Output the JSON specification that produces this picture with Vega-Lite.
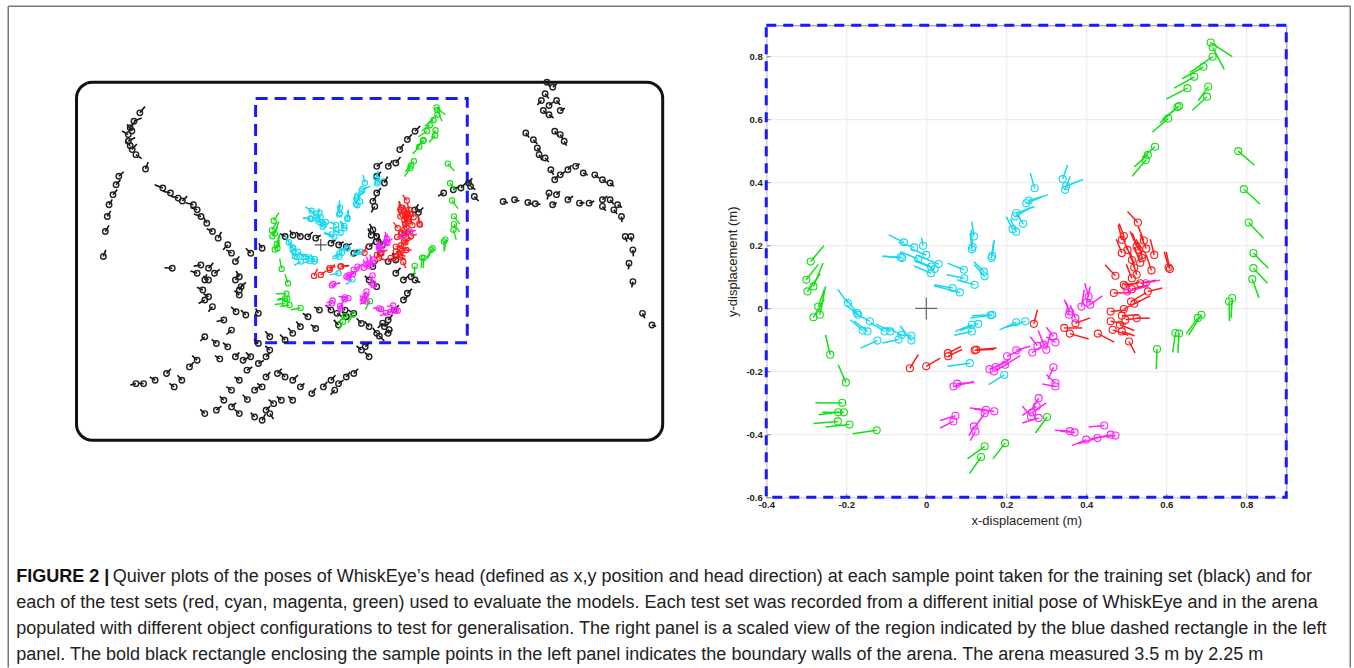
{
"$schema":"https://vega.github.io/schema/vega-lite/v6.json",
"background":"white",
"padding":{"left":7.25,"top":5.25,"right":0,"bottom":0},
"autosize":{"type":"pad"},
"bounds":"flush",
"columns":2,
"spacing":{"row":67,"column":71},
"config":{"view":{"stroke":null},"font":"Liberation Sans"},
"datasets":{
"arena":[{"x":-1.5,"y":-1.2,"xe":2.1,"ye":1.0}],
"zoombox":[{"x":-0.4,"y":-0.6,"xe":0.9,"ye":0.9}],
"origin":[{"x":0,"y":0}],
"frame":[{"x":-0.0118,"y":-21.46,"xe":1.9647,"ye":-21.46},{"x":-0.0118,"y":-21.46,"xe":-0.0118,"ye":3.97},{"x":1.9647,"y":-21.46,"xe":1.9647,"ye":3.97}],
"caption":[
{"x":0,"y":0.5,"t":"FIGURE 2 |","bold":true},
{"x":0.142,"y":0.5,"t":"Quiver plots of the poses of WhiskEye’s head (defined as x,y position and head direction) at each sample point taken for the training set (black) and for","bold":false},
{"x":0,"y":1.5,"t":"each of the test sets (red, cyan, magenta, green) used to evaluate the models. Each test set was recorded from a different initial pose of WhiskEye and in the arena","bold":false},
{"x":0,"y":2.5,"t":"populated with different object configurations to test for generalisation. The right panel is a scaled view of the region indicated by the blue dashed rectangle in the left","bold":false},
{"x":0,"y":3.5,"t":"panel. The bold black rectangle enclosing the sample points in the left panel indicates the boundary walls of the arena. The arena measured 3.5 m by 2.25 m","bold":false}
],
"tests":[
{"set":"green","x":0.711,"y":0.845,"xe":0.765,"ye":0.80},
{"set":"green","x":0.716,"y":0.83,"xe":0.745,"ye":0.76},
{"set":"green","x":0.716,"y":0.80,"xe":0.66,"ye":0.75},
{"set":"green","x":0.693,"y":0.768,"xe":0.64,"ye":0.73},
{"set":"green","x":0.67,"y":0.736,"xe":0.62,"ye":0.70},
{"set":"green","x":0.653,"y":0.70,"xe":0.60,"ye":0.665},
{"set":"green","x":0.705,"y":0.705,"xe":0.68,"ye":0.66},
{"set":"green","x":0.702,"y":0.673,"xe":0.665,"ye":0.63},
{"set":"green","x":0.632,"y":0.643,"xe":0.59,"ye":0.60},
{"set":"green","x":0.628,"y":0.64,"xe":0.585,"ye":0.59},
{"set":"green","x":0.605,"y":0.604,"xe":0.565,"ye":0.56},
{"set":"green","x":0.572,"y":0.514,"xe":0.54,"ye":0.48},
{"set":"green","x":0.554,"y":0.488,"xe":0.52,"ye":0.45},
{"set":"green","x":0.549,"y":0.472,"xe":0.515,"ye":0.42},
{"set":"green","x":0.78,"y":0.50,"xe":0.82,"ye":0.456},
{"set":"green","x":0.794,"y":0.379,"xe":0.834,"ye":0.332},
{"set":"green","x":0.806,"y":0.273,"xe":0.843,"ye":0.223},
{"set":"green","x":0.818,"y":0.176,"xe":0.855,"ye":0.128},
{"set":"green","x":0.818,"y":0.128,"xe":0.853,"ye":0.08},
{"set":"green","x":0.815,"y":0.093,"xe":0.832,"ye":0.033},
{"set":"green","x":0.765,"y":0.033,"xe":0.762,"ye":-0.03},
{"set":"green","x":0.757,"y":0.022,"xe":0.758,"ye":-0.04},
{"set":"green","x":0.688,"y":-0.02,"xe":0.656,"ye":-0.084},
{"set":"green","x":0.679,"y":-0.03,"xe":0.65,"ye":-0.08},
{"set":"green","x":0.623,"y":-0.078,"xe":0.616,"ye":-0.14},
{"set":"green","x":0.632,"y":-0.08,"xe":0.629,"ye":-0.142},
{"set":"green","x":0.577,"y":-0.129,"xe":0.575,"ye":-0.193},
{"set":"green","x":0.302,"y":-0.345,"xe":0.273,"ye":-0.396},
{"set":"green","x":0.146,"y":-0.438,"xe":0.103,"ye":-0.478},
{"set":"green","x":0.137,"y":-0.472,"xe":0.108,"ye":-0.525},
{"set":"green","x":0.197,"y":-0.428,"xe":0.167,"ye":-0.478},
{"set":"green","x":-0.21,"y":-0.30,"xe":-0.277,"ye":-0.30},
{"set":"green","x":-0.22,"y":-0.33,"xe":-0.269,"ye":-0.338},
{"set":"green","x":-0.206,"y":-0.33,"xe":-0.26,"ye":-0.33},
{"set":"green","x":-0.221,"y":-0.359,"xe":-0.282,"ye":-0.366},
{"set":"green","x":-0.192,"y":-0.369,"xe":-0.251,"ye":-0.377},
{"set":"green","x":-0.124,"y":-0.387,"xe":-0.184,"ye":-0.398},
{"set":"green","x":-0.24,"y":-0.147,"xe":-0.252,"ye":-0.084},
{"set":"green","x":-0.201,"y":-0.235,"xe":-0.22,"ye":-0.179},
{"set":"green","x":-0.3,"y":0.091,"xe":-0.27,"ye":0.14},
{"set":"green","x":-0.297,"y":0.054,"xe":-0.265,"ye":0.11},
{"set":"green","x":-0.289,"y":0.149,"xe":-0.256,"ye":0.199},
{"set":"green","x":-0.282,"y":0.07,"xe":-0.258,"ye":0.144},
{"set":"green","x":-0.282,"y":-0.028,"xe":-0.255,"ye":0.03},
{"set":"green","x":-0.266,"y":-0.02,"xe":-0.252,"ye":0.07},
{"set":"green","x":-0.27,"y":0.006,"xe":-0.255,"ye":0.06},
{"set":"cyan","x":0.271,"y":0.382,"xe":0.26,"ye":0.43},
{"set":"cyan","x":0.341,"y":0.411,"xe":0.353,"ye":0.456},
{"set":"cyan","x":0.35,"y":0.389,"xe":0.392,"ye":0.41},
{"set":"cyan","x":0.347,"y":0.377,"xe":0.36,"ye":0.42},
{"set":"cyan","x":0.256,"y":0.343,"xe":0.304,"ye":0.361},
{"set":"cyan","x":0.25,"y":0.334,"xe":0.29,"ye":0.355},
{"set":"cyan","x":0.225,"y":0.303,"xe":0.271,"ye":0.324},
{"set":"cyan","x":0.222,"y":0.292,"xe":0.26,"ye":0.32},
{"set":"cyan","x":0.242,"y":0.269,"xe":0.225,"ye":0.305},
{"set":"cyan","x":0.216,"y":0.252,"xe":0.20,"ye":0.292},
{"set":"cyan","x":0.225,"y":0.244,"xe":0.21,"ye":0.285},
{"set":"cyan","x":0.119,"y":0.229,"xe":0.114,"ye":0.276},
{"set":"cyan","x":0.114,"y":0.188,"xe":0.11,"ye":0.24},
{"set":"cyan","x":0.116,"y":0.195,"xe":0.112,"ye":0.25},
{"set":"cyan","x":0.165,"y":0.167,"xe":0.17,"ye":0.218},
{"set":"cyan","x":0.163,"y":0.16,"xe":0.168,"ye":0.21},
{"set":"cyan","x":-0.008,"y":0.199,"xe":-0.012,"ye":0.225},
{"set":"cyan","x":-0.056,"y":0.21,"xe":-0.094,"ye":0.234},
{"set":"cyan","x":-0.03,"y":0.194,"xe":-0.07,"ye":0.21},
{"set":"cyan","x":-0.06,"y":0.16,"xe":-0.108,"ye":0.167},
{"set":"cyan","x":-0.064,"y":0.163,"xe":-0.11,"ye":0.165},
{"set":"cyan","x":0.0,"y":0.17,"xe":-0.04,"ye":0.19},
{"set":"cyan","x":-0.02,"y":0.157,"xe":-0.065,"ye":0.18},
{"set":"cyan","x":0.031,"y":0.141,"xe":-0.025,"ye":0.17},
{"set":"cyan","x":0.012,"y":0.133,"xe":-0.03,"ye":0.155},
{"set":"cyan","x":0.021,"y":0.125,"xe":-0.025,"ye":0.15},
{"set":"cyan","x":0.012,"y":0.112,"xe":-0.03,"ye":0.135},
{"set":"cyan","x":0.094,"y":0.123,"xe":0.053,"ye":0.144},
{"set":"cyan","x":0.144,"y":0.117,"xe":0.119,"ye":0.149},
{"set":"cyan","x":0.146,"y":0.102,"xe":0.12,"ye":0.14},
{"set":"cyan","x":0.095,"y":0.096,"xe":0.051,"ye":0.107},
{"set":"cyan","x":0.121,"y":0.075,"xe":0.077,"ye":0.091},
{"set":"cyan","x":0.066,"y":0.065,"xe":0.02,"ye":0.075},
{"set":"cyan","x":0.084,"y":0.051,"xe":0.019,"ye":0.072},
{"set":"cyan","x":-0.196,"y":0.017,"xe":-0.221,"ye":0.06},
{"set":"cyan","x":-0.173,"y":-0.015,"xe":-0.2,"ye":0.03},
{"set":"cyan","x":-0.17,"y":-0.02,"xe":-0.2,"ye":0.01},
{"set":"cyan","x":-0.159,"y":-0.07,"xe":-0.19,"ye":-0.036},
{"set":"cyan","x":-0.147,"y":-0.073,"xe":-0.18,"ye":-0.04},
{"set":"cyan","x":-0.141,"y":-0.041,"xe":-0.185,"ye":-0.01},
{"set":"cyan","x":-0.104,"y":-0.073,"xe":-0.14,"ye":-0.045},
{"set":"cyan","x":-0.09,"y":-0.073,"xe":-0.125,"ye":-0.05},
{"set":"cyan","x":-0.062,"y":-0.084,"xe":-0.1,"ye":-0.06},
{"set":"cyan","x":-0.037,"y":-0.087,"xe":-0.071,"ye":-0.084},
{"set":"cyan","x":-0.037,"y":-0.102,"xe":-0.065,"ye":-0.055},
{"set":"cyan","x":-0.069,"y":-0.099,"xe":-0.11,"ye":-0.11},
{"set":"cyan","x":-0.122,"y":-0.102,"xe":-0.164,"ye":-0.126},
{"set":"cyan","x":0.165,"y":-0.02,"xe":0.114,"ye":-0.023},
{"set":"cyan","x":0.161,"y":-0.022,"xe":0.11,"ye":-0.03},
{"set":"cyan","x":0.248,"y":-0.041,"xe":0.2,"ye":-0.06},
{"set":"cyan","x":0.225,"y":-0.044,"xe":0.183,"ye":-0.068},
{"set":"cyan","x":0.13,"y":-0.049,"xe":0.085,"ye":-0.07},
{"set":"cyan","x":0.114,"y":-0.052,"xe":0.072,"ye":-0.073},
{"set":"cyan","x":0.114,"y":-0.073,"xe":0.07,"ye":-0.085},
{"set":"cyan","x":0.109,"y":-0.174,"xe":0.053,"ye":-0.184},
{"set":"cyan","x":0.195,"y":-0.211,"xe":0.156,"ye":-0.242},
{"set":"red","x":0.529,"y":0.273,"xe":0.503,"ye":0.308},
{"set":"red","x":0.489,"y":0.218,"xe":0.48,"ye":0.266},
{"set":"red","x":0.494,"y":0.23,"xe":0.482,"ye":0.27},
{"set":"red","x":0.544,"y":0.216,"xe":0.53,"ye":0.26},
{"set":"red","x":0.526,"y":0.197,"xe":0.51,"ye":0.245},
{"set":"red","x":0.503,"y":0.186,"xe":0.49,"ye":0.23},
{"set":"red","x":0.531,"y":0.186,"xe":0.515,"ye":0.24},
{"set":"red","x":0.54,"y":0.17,"xe":0.525,"ye":0.22},
{"set":"red","x":0.514,"y":0.154,"xe":0.5,"ye":0.2},
{"set":"red","x":0.489,"y":0.176,"xe":0.475,"ye":0.22},
{"set":"red","x":0.54,"y":0.16,"xe":0.53,"ye":0.21},
{"set":"red","x":0.563,"y":0.121,"xe":0.55,"ye":0.17},
{"set":"red","x":0.526,"y":0.107,"xe":0.515,"ye":0.155},
{"set":"red","x":0.514,"y":0.096,"xe":0.5,"ye":0.14},
{"set":"red","x":0.609,"y":0.125,"xe":0.6,"ye":0.18},
{"set":"red","x":0.606,"y":0.13,"xe":0.595,"ye":0.18},
{"set":"red","x":0.52,"y":0.13,"xe":0.51,"ye":0.18},
{"set":"red","x":0.55,"y":0.19,"xe":0.535,"ye":0.235},
{"set":"red","x":0.57,"y":0.17,"xe":0.56,"ye":0.22},
{"set":"red","x":0.535,"y":0.145,"xe":0.52,"ye":0.195},
{"set":"red","x":0.473,"y":0.104,"xe":0.447,"ye":0.139},
{"set":"red","x":0.494,"y":0.075,"xe":0.53,"ye":0.08},
{"set":"red","x":0.498,"y":0.07,"xe":0.535,"ye":0.085},
{"set":"red","x":0.469,"y":0.049,"xe":0.51,"ye":0.05},
{"set":"red","x":0.514,"y":0.061,"xe":0.555,"ye":0.075},
{"set":"red","x":0.535,"y":0.08,"xe":0.575,"ye":0.09},
{"set":"red","x":0.554,"y":0.054,"xe":0.59,"ye":0.065},
{"set":"red","x":0.512,"y":0.022,"xe":0.55,"ye":0.05},
{"set":"red","x":0.52,"y":0.015,"xe":0.56,"ye":0.04},
{"set":"red","x":0.494,"y":-0.002,"xe":0.535,"ye":0.025},
{"set":"red","x":0.461,"y":-0.01,"xe":0.5,"ye":-0.005},
{"set":"red","x":0.489,"y":-0.023,"xe":0.53,"ye":-0.02},
{"set":"red","x":0.498,"y":-0.036,"xe":0.535,"ye":-0.03},
{"set":"red","x":0.526,"y":-0.031,"xe":0.559,"ye":-0.031},
{"set":"red","x":0.461,"y":-0.041,"xe":0.5,"ye":-0.05},
{"set":"red","x":0.484,"y":-0.052,"xe":0.52,"ye":-0.07},
{"set":"red","x":0.466,"y":-0.068,"xe":0.505,"ye":-0.085},
{"set":"red","x":0.489,"y":-0.073,"xe":0.521,"ye":-0.087},
{"set":"red","x":0.429,"y":-0.08,"xe":0.47,"ye":-0.107},
{"set":"red","x":0.507,"y":-0.105,"xe":0.522,"ye":-0.142},
{"set":"red","x":0.359,"y":-0.08,"xe":0.406,"ye":-0.097},
{"set":"red","x":0.345,"y":-0.062,"xe":0.39,"ye":-0.062},
{"set":"red","x":0.373,"y":-0.047,"xe":0.41,"ye":-0.03},
{"set":"red","x":0.269,"y":-0.049,"xe":0.278,"ye":-0.004},
{"set":"red","x":0.125,"y":-0.131,"xe":0.176,"ye":-0.126},
{"set":"red","x":0.121,"y":-0.133,"xe":0.17,"ye":-0.13},
{"set":"red","x":0.054,"y":-0.142,"xe":0.087,"ye":-0.121},
{"set":"red","x":0.055,"y":-0.152,"xe":0.09,"ye":-0.13},
{"set":"red","x":0.0,"y":-0.184,"xe":0.035,"ye":-0.158},
{"set":"red","x":-0.041,"y":-0.19,"xe":-0.02,"ye":-0.147},
{"set":"magenta","x":0.359,"y":-0.01,"xe":0.345,"ye":0.028},
{"set":"magenta","x":0.357,"y":-0.02,"xe":0.35,"ye":0.02},
{"set":"magenta","x":0.373,"y":-0.031,"xe":0.36,"ye":0.01},
{"set":"magenta","x":0.388,"y":0.006,"xe":0.395,"ye":0.06},
{"set":"magenta","x":0.401,"y":0.019,"xe":0.41,"ye":0.07},
{"set":"magenta","x":0.406,"y":0.038,"xe":0.396,"ye":0.08},
{"set":"magenta","x":0.41,"y":0.012,"xe":0.44,"ye":0.04},
{"set":"magenta","x":0.503,"y":0.054,"xe":0.55,"ye":0.07},
{"set":"magenta","x":0.549,"y":0.08,"xe":0.585,"ye":0.09},
{"set":"magenta","x":0.318,"y":-0.089,"xe":0.3,"ye":-0.06},
{"set":"magenta","x":0.323,"y":-0.108,"xe":0.3,"ye":-0.09},
{"set":"magenta","x":0.294,"y":-0.115,"xe":0.28,"ye":-0.07},
{"set":"magenta","x":0.278,"y":-0.119,"xe":0.26,"ye":-0.09},
{"set":"magenta","x":0.3,"y":-0.131,"xe":0.31,"ye":-0.08},
{"set":"magenta","x":0.265,"y":-0.14,"xe":0.3,"ye":-0.11},
{"set":"magenta","x":0.225,"y":-0.133,"xe":0.26,"ye":-0.12},
{"set":"magenta","x":0.202,"y":-0.152,"xe":0.24,"ye":-0.13},
{"set":"magenta","x":0.158,"y":-0.193,"xe":0.2,"ye":-0.17},
{"set":"magenta","x":0.174,"y":-0.186,"xe":0.21,"ye":-0.16},
{"set":"magenta","x":0.197,"y":-0.179,"xe":0.235,"ye":-0.15},
{"set":"magenta","x":0.169,"y":-0.2,"xe":0.205,"ye":-0.175},
{"set":"magenta","x":0.318,"y":-0.187,"xe":0.305,"ye":-0.225},
{"set":"magenta","x":0.323,"y":-0.237,"xe":0.3,"ye":-0.21},
{"set":"magenta","x":0.323,"y":-0.248,"xe":0.29,"ye":-0.24},
{"set":"magenta","x":0.068,"y":-0.248,"xe":0.119,"ye":-0.232},
{"set":"magenta","x":0.077,"y":-0.239,"xe":0.12,"ye":-0.235},
{"set":"magenta","x":0.073,"y":-0.341,"xe":0.035,"ye":-0.356},
{"set":"magenta","x":0.068,"y":-0.359,"xe":0.035,"ye":-0.38},
{"set":"magenta","x":0.149,"y":-0.322,"xe":0.109,"ye":-0.316},
{"set":"magenta","x":0.17,"y":-0.327,"xe":0.12,"ye":-0.32},
{"set":"magenta","x":0.146,"y":-0.333,"xe":0.12,"ye":-0.38},
{"set":"magenta","x":0.119,"y":-0.375,"xe":0.107,"ye":-0.404},
{"set":"magenta","x":0.123,"y":-0.391,"xe":0.11,"ye":-0.42},
{"set":"magenta","x":0.281,"y":-0.285,"xe":0.265,"ye":-0.32},
{"set":"magenta","x":0.276,"y":-0.311,"xe":0.24,"ye":-0.34},
{"set":"magenta","x":0.281,"y":-0.348,"xe":0.24,"ye":-0.364},
{"set":"magenta","x":0.262,"y":-0.343,"xe":0.24,"ye":-0.31},
{"set":"magenta","x":0.265,"y":-0.33,"xe":0.3,"ye":-0.3},
{"set":"magenta","x":0.359,"y":-0.39,"xe":0.322,"ye":-0.387},
{"set":"magenta","x":0.371,"y":-0.394,"xe":0.335,"ye":-0.39},
{"set":"magenta","x":0.4,"y":-0.417,"xe":0.364,"ye":-0.436},
{"set":"magenta","x":0.428,"y":-0.412,"xe":0.38,"ye":-0.43},
{"set":"magenta","x":0.461,"y":-0.401,"xe":0.41,"ye":-0.415},
{"set":"magenta","x":0.473,"y":-0.404,"xe":0.43,"ye":-0.41},
{"set":"magenta","x":0.445,"y":-0.372,"xe":0.406,"ye":-0.377}
],
"train":[
{"x":-1.111,"y":0.812,"xe":-1.08,"ye":0.85},
{"x":-1.147,"y":0.76,"xe":-1.10,"ye":0.78},
{"x":-1.17,"y":0.72,"xe":-1.14,"ye":0.76},
{"x":-1.16,"y":0.70,"xe":-1.19,"ye":0.74},
{"x":-1.182,"y":0.678,"xe":-1.22,"ye":0.70},
{"x":-1.182,"y":0.637,"xe":-1.14,"ye":0.66},
{"x":-1.158,"y":0.586,"xe":-1.13,"ye":0.62},
{"x":-1.17,"y":0.61,"xe":-1.20,"ye":0.64},
{"x":-1.135,"y":0.555,"xe":-1.10,"ye":0.53},
{"x":-1.076,"y":0.467,"xe":-1.06,"ye":0.51},
{"x":-1.24,"y":0.422,"xe":-1.21,"ye":0.45},
{"x":-1.257,"y":0.37,"xe":-1.23,"ye":0.40},
{"x":-1.276,"y":0.309,"xe":-1.25,"ye":0.34},
{"x":-1.30,"y":0.247,"xe":-1.28,"ye":0.28},
{"x":-1.311,"y":0.175,"xe":-1.29,"ye":0.21},
{"x":-1.323,"y":0.083,"xe":-1.30,"ye":0.12},
{"x":-1.335,"y":-0.071,"xe":-1.32,"ye":-0.03},
{"x":-0.97,"y":0.35,"xe":-1.02,"ye":0.37},
{"x":-0.923,"y":0.319,"xe":-0.97,"ye":0.33},
{"x":-0.876,"y":0.288,"xe":-0.92,"ye":0.30},
{"x":-0.85,"y":0.27,"xe":-0.82,"ye":0.30},
{"x":-0.782,"y":0.247,"xe":-0.83,"ye":0.26},
{"x":-0.759,"y":0.216,"xe":-0.80,"ye":0.23},
{"x":-0.735,"y":0.175,"xe":-0.78,"ye":0.19},
{"x":-0.70,"y":0.134,"xe":-0.72,"ye":0.17},
{"x":-0.665,"y":0.083,"xe":-0.70,"ye":0.10},
{"x":-0.63,"y":0.042,"xe":-0.61,"ye":0.08},
{"x":-0.571,"y":0.001,"xe":-0.60,"ye":-0.03},
{"x":-0.548,"y":-0.05,"xe":-0.58,"ye":-0.03},
{"x":-0.524,"y":-0.102,"xe":-0.50,"ye":-0.07},
{"x":-0.912,"y":-0.143,"xe":-0.96,"ye":-0.14},
{"x":-0.736,"y":-0.123,"xe":-0.78,"ye":-0.13},
{"x":-0.689,"y":-0.143,"xe":-0.66,"ye":-0.11},
{"x":-0.653,"y":-0.174,"xe":-0.62,"ye":-0.15},
{"x":-0.689,"y":-0.215,"xe":-0.72,"ye":-0.19},
{"x":-0.759,"y":-0.174,"xe":-0.80,"ye":-0.16},
{"x":-0.712,"y":-0.215,"xe":-0.70,"ye":-0.18},
{"x":-0.724,"y":-0.277,"xe":-0.76,"ye":-0.26},
{"x":-0.689,"y":-0.318,"xe":-0.72,"ye":-0.30},
{"x":-0.712,"y":-0.338,"xe":-0.75,"ye":-0.36},
{"x":-0.665,"y":-0.379,"xe":-0.69,"ye":-0.41},
{"x":-0.595,"y":-0.461,"xe":-0.64,"ye":-0.47},
{"x":-0.548,"y":-0.523,"xe":-0.58,"ye":-0.55},
{"x":-0.524,"y":-0.215,"xe":-0.50,"ye":-0.18},
{"x":-0.50,"y":-0.277,"xe":-0.48,"ye":-0.24},
{"x":-0.50,"y":-0.195,"xe":-0.52,"ye":-0.16},
{"x":-0.489,"y":-0.256,"xe":-0.46,"ye":-0.23},
{"x":-0.50,"y":-0.308,"xe":-0.53,"ye":-0.28},
{"x":-0.383,"y":-0.42,"xe":-0.40,"ye":-0.39},
{"x":-0.52,"y":-0.41,"xe":-0.55,"ye":-0.38},
{"x":-0.46,"y":-0.43,"xe":-0.49,"ye":-0.40},
{"x":-0.43,"y":-0.051,"xe":-0.46,"ye":-0.02},
{"x":-0.36,"y":-0.02,"xe":-0.38,"ye":0.01},
{"x":-0.219,"y":0.052,"xe":-0.25,"ye":0.07},
{"x":-0.17,"y":0.06,"xe":-0.19,"ye":0.09},
{"x":-0.125,"y":0.052,"xe":-0.15,"ye":0.08},
{"x":-0.08,"y":0.05,"xe":-0.05,"ye":0.08},
{"x":-0.031,"y":0.042,"xe":0.0,"ye":0.06},
{"x":0.063,"y":0.011,"xe":0.09,"ye":0.03},
{"x":0.11,"y":0.0,"xe":0.14,"ye":0.02},
{"x":0.157,"y":-0.01,"xe":0.19,"ye":0.01},
{"x":0.203,"y":-0.051,"xe":0.23,"ye":-0.03},
{"x":0.32,"y":0.093,"xe":0.30,"ye":0.13},
{"x":0.344,"y":0.052,"xe":0.32,"ye":0.09},
{"x":0.297,"y":-0.01,"xe":0.33,"ye":0.02},
{"x":0.367,"y":-0.051,"xe":0.35,"ye":-0.01},
{"x":0.414,"y":-0.102,"xe":0.45,"ye":-0.08},
{"x":0.461,"y":-0.092,"xe":0.44,"ye":-0.05},
{"x":0.32,"y":-0.133,"xe":0.35,"ye":-0.10},
{"x":0.579,"y":0.216,"xe":0.60,"ye":0.25},
{"x":0.60,"y":0.20,"xe":0.63,"ye":0.23},
{"x":0.31,"y":0.06,"xe":0.29,"ye":0.10},
{"x":0.34,"y":0.02,"xe":0.36,"ye":0.06},
{"x":0.38,"y":0.0,"xe":0.36,"ye":0.04},
{"x":0.344,"y":0.483,"xe":0.38,"ye":0.51},
{"x":0.415,"y":0.483,"xe":0.44,"ye":0.52},
{"x":0.461,"y":0.504,"xe":0.49,"ye":0.54},
{"x":0.485,"y":0.586,"xe":0.51,"ye":0.62},
{"x":0.532,"y":0.648,"xe":0.56,"ye":0.68},
{"x":0.579,"y":0.699,"xe":0.61,"ye":0.73},
{"x":0.344,"y":0.422,"xe":0.37,"ye":0.45},
{"x":0.391,"y":0.381,"xe":0.41,"ye":0.42},
{"x":0.344,"y":0.319,"xe":0.37,"ye":0.35},
{"x":0.32,"y":0.268,"xe":0.34,"ye":0.30},
{"x":0.332,"y":0.237,"xe":0.31,"ye":0.20},
{"x":0.755,"y":0.319,"xe":0.72,"ye":0.30},
{"x":0.814,"y":0.339,"xe":0.85,"ye":0.36},
{"x":0.861,"y":0.35,"xe":0.89,"ye":0.38},
{"x":0.908,"y":0.381,"xe":0.93,"ye":0.41},
{"x":0.943,"y":0.298,"xe":0.97,"ye":0.27},
{"x":0.92,"y":0.36,"xe":0.95,"ye":0.34},
{"x":0.297,"y":-0.215,"xe":0.27,"ye":-0.19},
{"x":0.344,"y":-0.256,"xe":0.32,"ye":-0.22},
{"x":0.461,"y":-0.174,"xe":0.49,"ye":-0.14},
{"x":0.508,"y":-0.215,"xe":0.54,"ye":-0.19},
{"x":0.555,"y":-0.195,"xe":0.58,"ye":-0.17},
{"x":0.579,"y":-0.215,"xe":0.61,"ye":-0.23},
{"x":0.532,"y":-0.297,"xe":0.56,"ye":-0.27},
{"x":0.508,"y":-0.338,"xe":0.54,"ye":-0.31},
{"x":0.45,"y":-0.40,"xe":0.48,"ye":-0.37},
{"x":0.414,"y":-0.461,"xe":0.44,"ye":-0.43},
{"x":0.391,"y":-0.502,"xe":0.42,"ye":-0.48},
{"x":0.414,"y":-0.543,"xe":0.44,"ye":-0.52},
{"x":0.344,"y":-0.543,"xe":0.32,"ye":-0.51},
{"x":0.297,"y":-0.502,"xe":0.27,"ye":-0.47},
{"x":0.25,"y":-0.482,"xe":0.22,"ye":-0.45},
{"x":0.203,"y":-0.42,"xe":0.17,"ye":-0.40},
{"x":0.157,"y":-0.441,"xe":0.13,"ye":-0.41},
{"x":0.42,"y":-0.52,"xe":0.39,"ye":-0.55},
{"x":0.38,"y":-0.48,"xe":0.35,"ye":-0.51},
{"x":0.36,"y":-0.56,"xe":0.39,"ye":-0.59},
{"x":0.063,"y":-0.40,"xe":0.03,"ye":-0.37},
{"x":-0.008,"y":-0.40,"xe":-0.04,"ye":-0.38},
{"x":-0.078,"y":-0.441,"xe":-0.11,"ye":-0.42},
{"x":-0.125,"y":-0.502,"xe":-0.15,"ye":-0.47},
{"x":-0.172,"y":-0.543,"xe":-0.20,"ye":-0.51},
{"x":-0.219,"y":-0.584,"xe":-0.25,"ye":-0.55},
{"x":-0.313,"y":-0.564,"xe":-0.34,"ye":-0.53},
{"x":-0.383,"y":-0.605,"xe":-0.41,"ye":-0.58},
{"x":-0.031,"y":-0.513,"xe":-0.06,"ye":-0.49},
{"x":0.109,"y":-0.492,"xe":0.08,"ye":-0.46},
{"x":0.25,"y":-0.646,"xe":0.22,"ye":-0.62},
{"x":0.297,"y":-0.687,"xe":0.27,"ye":-0.66},
{"x":0.273,"y":-0.625,"xe":0.30,"ye":-0.60},
{"x":0.15,"y":-0.40,"xe":0.12,"ye":-0.37},
{"x":0.10,"y":-0.42,"xe":0.13,"ye":-0.44},
{"x":-0.712,"y":-0.564,"xe":-0.74,"ye":-0.59},
{"x":-0.641,"y":-0.605,"xe":-0.67,"ye":-0.58},
{"x":-0.571,"y":-0.626,"xe":-0.60,"ye":-0.60},
{"x":-0.524,"y":-0.687,"xe":-0.50,"ye":-0.66},
{"x":-0.477,"y":-0.708,"xe":-0.44,"ye":-0.69},
{"x":-0.43,"y":-0.687,"xe":-0.46,"ye":-0.66},
{"x":-0.383,"y":-0.728,"xe":-0.35,"ye":-0.71},
{"x":-0.336,"y":-0.687,"xe":-0.31,"ye":-0.66},
{"x":-0.313,"y":-0.646,"xe":-0.34,"ye":-0.62},
{"x":-0.453,"y":-0.769,"xe":-0.42,"ye":-0.75},
{"x":-0.50,"y":-0.831,"xe":-0.53,"ye":-0.81},
{"x":-0.548,"y":-0.892,"xe":-0.58,"ye":-0.87},
{"x":-0.595,"y":-0.954,"xe":-0.62,"ye":-0.93},
{"x":-0.641,"y":-1.015,"xe":-0.61,"ye":-0.99},
{"x":-0.712,"y":-1.036,"xe":-0.74,"ye":-1.01},
{"x":-0.759,"y":-0.708,"xe":-0.79,"ye":-0.68},
{"x":-0.806,"y":-0.749,"xe":-0.78,"ye":-0.72},
{"x":-0.853,"y":-0.831,"xe":-0.88,"ye":-0.80},
{"x":-0.90,"y":-0.872,"xe":-0.93,"ye":-0.85},
{"x":-0.947,"y":-0.79,"xe":-0.92,"ye":-0.76},
{"x":-1.017,"y":-0.831,"xe":-1.05,"ye":-0.81},
{"x":-1.088,"y":-0.852,"xe":-1.12,"ye":-0.85},
{"x":-1.135,"y":-0.852,"xe":-1.17,"ye":-0.86},
{"x":-0.406,"y":-0.892,"xe":-0.38,"ye":-0.87},
{"x":-0.36,"y":-0.872,"xe":-0.39,"ye":-0.85},
{"x":-0.336,"y":-0.811,"xe":-0.31,"ye":-0.78},
{"x":-0.266,"y":-0.79,"xe":-0.24,"ye":-0.76},
{"x":-0.219,"y":-0.811,"xe":-0.25,"ye":-0.78},
{"x":-0.172,"y":-0.831,"xe":-0.14,"ye":-0.80},
{"x":-0.125,"y":-0.872,"xe":-0.10,"ye":-0.85},
{"x":-0.055,"y":-0.913,"xe":-0.03,"ye":-0.88},
{"x":-0.172,"y":-0.954,"xe":-0.20,"ye":-0.93},
{"x":-0.242,"y":-0.954,"xe":-0.27,"ye":-0.93},
{"x":-0.289,"y":-0.975,"xe":-0.32,"ye":-0.95},
{"x":-0.336,"y":-1.015,"xe":-0.31,"ye":-0.99},
{"x":-0.36,"y":-1.077,"xe":-0.34,"ye":-1.04},
{"x":-0.406,"y":-1.057,"xe":-0.43,"ye":-1.03},
{"x":-0.313,"y":-1.036,"xe":-0.29,"ye":-1.07},
{"x":-0.50,"y":-1.036,"xe":-0.53,"ye":-1.01},
{"x":-0.548,"y":-0.995,"xe":-0.52,"ye":-0.97},
{"x":0.063,"y":-0.831,"xe":0.09,"ye":-0.80},
{"x":0.109,"y":-0.852,"xe":0.14,"ye":-0.83},
{"x":0.157,"y":-0.811,"xe":0.18,"ye":-0.78},
{"x":0.203,"y":-0.79,"xe":0.23,"ye":-0.76},
{"x":0.086,"y":-0.892,"xe":0.06,"ye":-0.92},
{"x":0.016,"y":-0.872,"xe":0.04,"ye":-0.84},
{"x":-0.62,"y":-0.70,"xe":-0.65,"ye":-0.68},
{"x":-0.45,"y":-0.95,"xe":-0.48,"ye":-0.92},
{"x":1.389,"y":1.0,"xe":1.41,"ye":0.97},
{"x":1.425,"y":0.969,"xe":1.45,"ye":0.99},
{"x":1.378,"y":0.929,"xe":1.40,"ye":0.90},
{"x":1.355,"y":0.888,"xe":1.33,"ye":0.86},
{"x":1.402,"y":0.857,"xe":1.43,"ye":0.88},
{"x":1.367,"y":0.826,"xe":1.39,"ye":0.80},
{"x":1.448,"y":0.888,"xe":1.47,"ye":0.86},
{"x":1.471,"y":0.826,"xe":1.50,"ye":0.84},
{"x":1.259,"y":0.688,"xe":1.28,"ye":0.66},
{"x":1.306,"y":0.647,"xe":1.33,"ye":0.62},
{"x":1.33,"y":0.596,"xe":1.35,"ye":0.57},
{"x":1.341,"y":0.555,"xe":1.36,"ye":0.52},
{"x":1.378,"y":0.534,"xe":1.40,"ye":0.51},
{"x":1.402,"y":0.80,"xe":1.43,"ye":0.78},
{"x":1.437,"y":0.699,"xe":1.46,"ye":0.67},
{"x":1.471,"y":0.678,"xe":1.49,"ye":0.65},
{"x":1.495,"y":0.637,"xe":1.51,"ye":0.61},
{"x":1.413,"y":0.462,"xe":1.43,"ye":0.43},
{"x":1.437,"y":0.401,"xe":1.46,"ye":0.43},
{"x":1.471,"y":0.431,"xe":1.50,"ye":0.45},
{"x":1.518,"y":0.462,"xe":1.54,"ye":0.49},
{"x":1.565,"y":0.483,"xe":1.59,"ye":0.50},
{"x":1.402,"y":0.319,"xe":1.39,"ye":0.28},
{"x":1.448,"y":0.309,"xe":1.47,"ye":0.33},
{"x":1.518,"y":0.278,"xe":1.55,"ye":0.30},
{"x":1.612,"y":0.442,"xe":1.64,"ye":0.43},
{"x":1.683,"y":0.431,"xe":1.71,"ye":0.41},
{"x":1.73,"y":0.401,"xe":1.76,"ye":0.38},
{"x":1.777,"y":0.381,"xe":1.80,"ye":0.36},
{"x":1.589,"y":0.257,"xe":1.62,"ye":0.26},
{"x":1.648,"y":0.257,"xe":1.68,"ye":0.27},
{"x":1.73,"y":0.278,"xe":1.76,"ye":0.30},
{"x":1.777,"y":0.278,"xe":1.80,"ye":0.25},
{"x":1.73,"y":0.237,"xe":1.75,"ye":0.21},
{"x":1.80,"y":0.216,"xe":1.82,"ye":0.19},
{"x":1.823,"y":0.247,"xe":1.85,"ye":0.23},
{"x":1.847,"y":0.175,"xe":1.85,"ye":0.14},
{"x":1.87,"y":0.052,"xe":1.88,"ye":0.02},
{"x":1.905,"y":0.052,"xe":1.91,"ye":0.02},
{"x":1.917,"y":-0.03,"xe":1.92,"ye":-0.07},
{"x":1.893,"y":-0.112,"xe":1.89,"ye":-0.15},
{"x":1.917,"y":-0.225,"xe":1.91,"ye":-0.26},
{"x":1.976,"y":-0.42,"xe":1.99,"ye":-0.45},
{"x":2.034,"y":-0.492,"xe":2.06,"ye":-0.50},
{"x":1.12,"y":0.267,"xe":1.15,"ye":0.26},
{"x":1.19,"y":0.278,"xe":1.22,"ye":0.27},
{"x":1.272,"y":0.261,"xe":1.30,"ye":0.25},
{"x":1.318,"y":0.253,"xe":1.35,"ye":0.25},
{"x":1.424,"y":0.247,"xe":1.45,"ye":0.26}
]
},
"concat":[
{
"width":679,"height":472,
"encoding":{
"x":{"field":"x","type":"quantitative","scale":{"domain":[-1.87,2.3],"nice":false,"zero":false},"axis":null},
"y":{"field":"y","type":"quantitative","scale":{"domain":[-1.55,1.35],"nice":false,"zero":false},"axis":null}
},
"layer":[
{"data":{"name":"arena"},"mark":{"type":"rect","filled":false,"color":"#111","strokeWidth":3,"cornerRadius":16},"encoding":{"x2":{"field":"xe"},"y2":{"field":"ye"}}},
{"data":{"name":"zoombox"},"mark":{"type":"rect","filled":false,"color":"#1a1aff","strokeWidth":3,"strokeDash":[12,7]},"encoding":{"x2":{"field":"xe"},"y2":{"field":"ye"}}},
{"data":{"name":"train"},"mark":{"type":"rule","color":"#111","strokeWidth":1.6},"encoding":{"x2":{"field":"xe"},"y2":{"field":"ye"}}},
{"data":{"name":"train"},"mark":{"type":"point","shape":"circle","filled":false,"color":"#222","size":30,"strokeWidth":1.4,"opacity":1},"encoding":{}},
{"data":{"name":"tests"},"mark":{"type":"rule","strokeWidth":1.4},"encoding":{"x2":{"field":"xe"},"y2":{"field":"ye"},"color":{"field":"set","type":"nominal","scale":{"domain":["red","cyan","magenta","green"],"range":["#ff1a1a","#14d8f0","#ff22ff","#12e012"]},"legend":null}}},
{"data":{"name":"tests"},"mark":{"type":"point","shape":"circle","filled":false,"size":28,"strokeWidth":1.1,"opacity":1},"encoding":{"color":{"field":"set","type":"nominal","legend":null}}},
{"data":{"name":"origin"},"mark":{"type":"point","shape":"M-1,0H1M0,-1V1","filled":false,"color":"#555","size":144,"strokeWidth":1.2,"opacity":1},"encoding":{}}
]
},
{
"width":520,"height":472,
"view":{"stroke":"#8a8a8a","strokeWidth":1},
"encoding":{
"x":{"field":"x","type":"quantitative","scale":{"domain":[-0.4,0.9],"nice":false,"zero":false},
"axis":{"title":"x-displacement (m)","values":[-0.4,-0.2,0,0.2,0.4,0.6,0.8],"labelExpr":"replace(format(datum.value,'~g'),'−','-')","labelFlush":false,"labelFont":"Liberation Sans","labelFontWeight":"bold","labelFontSize":9.5,"labelColor":"#222","labelPadding":6,"tickSize":-4,"tickColor":"#888","domain":false,"grid":true,"gridColor":"#e9e9e9","titleFont":"Liberation Sans","titleFontSize":13,"titleFontWeight":"normal","titleColor":"#222","titlePadding":6}},
"y":{"field":"y","type":"quantitative","scale":{"domain":[-0.6,0.9],"nice":false,"zero":false},
"axis":{"title":"y-displacement (m)","values":[-0.6,-0.4,-0.2,0,0.2,0.4,0.6,0.8],"labelExpr":"replace(format(datum.value,'~g'),'−','-')","labelFlush":false,"labelFont":"Liberation Sans","labelFontWeight":"bold","labelFontSize":9.5,"labelColor":"#222","labelPadding":8,"tickSize":-4,"tickColor":"#888","domain":false,"grid":true,"gridColor":"#e9e9e9","titleFont":"Liberation Sans","titleFontSize":13,"titleFontWeight":"normal","titleColor":"#222","titlePadding":6}}
},
"layer":[
{"data":{"name":"tests"},"mark":{"type":"rule","strokeWidth":1.5},"encoding":{"x2":{"field":"xe"},"y2":{"field":"ye"},"color":{"field":"set","type":"nominal","scale":{"domain":["red","cyan","magenta","green"],"range":["#ff1a1a","#14d8f0","#ff22ff","#12e012"]},"legend":null}}},
{"data":{"name":"tests"},"mark":{"type":"point","shape":"circle","filled":false,"size":50,"strokeWidth":1.1,"opacity":1},"encoding":{"color":{"field":"set","type":"nominal","legend":null}}},
{"data":{"name":"origin"},"mark":{"type":"point","shape":"M-1,0H1M0,-1V1","filled":false,"color":"#666","size":484,"strokeWidth":1.2,"opacity":1},"encoding":{}},
{"data":{"name":"zoombox"},"mark":{"type":"rect","filled":false,"color":"#1a1aff","strokeWidth":3,"strokeDash":[10,7]},"encoding":{"x2":{"field":"xe"},"y2":{"field":"ye"}}}
]
},
{
"width":679,"height":104,
"encoding":{
"x":{"field":"x","type":"quantitative","scale":{"domain":[0,1],"nice":false,"zero":false},"axis":null},
"y":{"field":"y","type":"quantitative","scale":{"domain":[0,4],"reverse":true,"nice":false,"zero":false},"axis":null}
},
"layer":[
{"data":{"name":"frame"},"mark":{"type":"rule","color":"#777","strokeWidth":1.5},"encoding":{"x2":{"field":"xe"},"y2":{"field":"ye"}}},
{"data":{"name":"caption"},"transform":[{"filter":"datum.bold"}],"mark":{"type":"text","align":"left","baseline":"middle","font":"Liberation Sans","fontSize":18,"fontWeight":"bold","color":"#111"},"encoding":{"text":{"field":"t"}}},
{"data":{"name":"caption"},"transform":[{"filter":"!datum.bold"}],"mark":{"type":"text","align":"left","baseline":"middle","font":"Liberation Sans","fontSize":18,"color":"#222"},"encoding":{"text":{"field":"t"}}}
]
}
]
}
